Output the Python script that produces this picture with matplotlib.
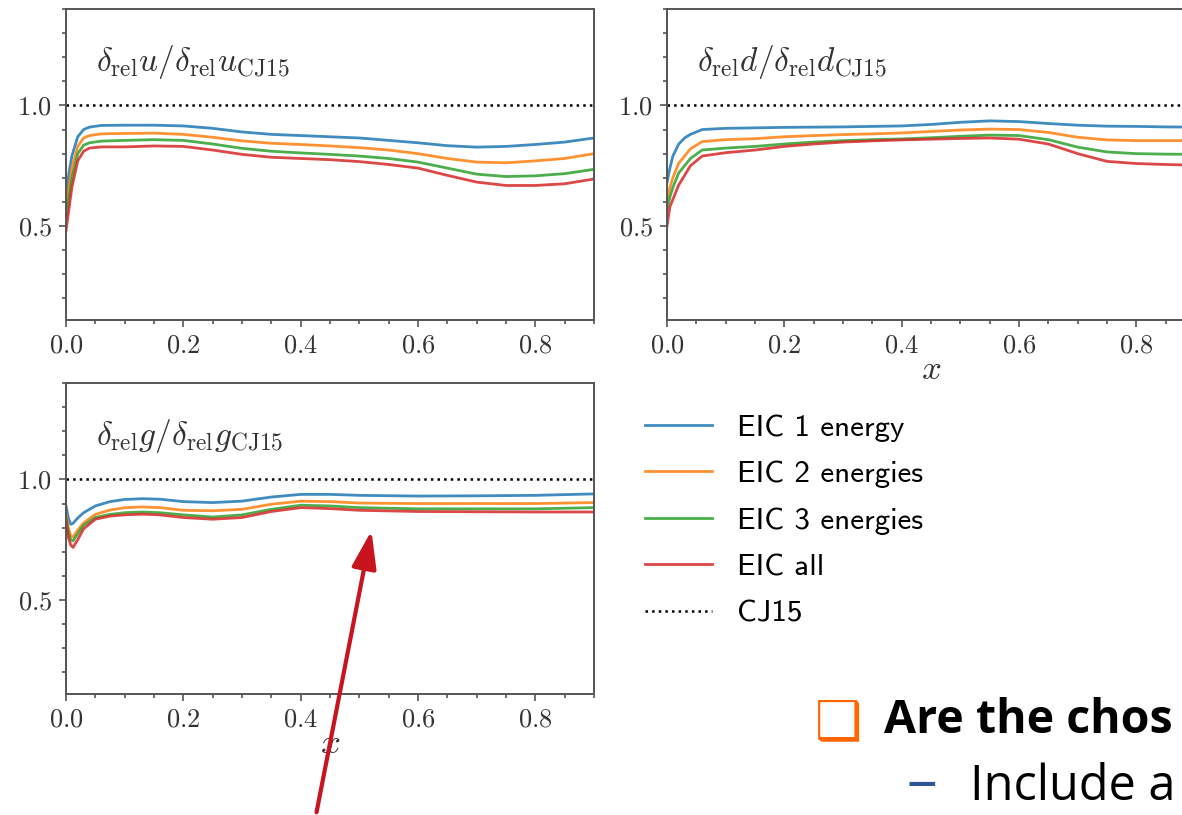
import matplotlib
matplotlib.use('Agg')
import matplotlib.pyplot as plt
from matplotlib.patches import FancyArrowPatch
from matplotlib.ticker import MultipleLocator

plt.rcParams['font.family'] = 'cmr10'
plt.rcParams['mathtext.fontset'] = 'cm'
plt.rcParams['axes.formatter.use_mathtext'] = True

# x grid of the read-off points
x_ud = [0, 0.005, 0.01, 0.02, 0.03, 0.04, 0.06, 0.1, 0.15, 0.2, 0.25, 0.3,
        0.35, 0.4, 0.45, 0.5, 0.55, 0.6, 0.65, 0.7, 0.75, 0.8, 0.85, 0.9]

u_1 = [0.62, 0.72, 0.79, 0.87, 0.90, 0.91, 0.917, 0.918, 0.918, 0.915, 0.905, 0.89,
       0.88, 0.875, 0.87, 0.865, 0.855, 0.845, 0.833, 0.827, 0.83, 0.838, 0.848, 0.865]
u_2 = [0.57, 0.66, 0.74, 0.83, 0.865, 0.875, 0.882, 0.884, 0.885, 0.88, 0.868, 0.853,
       0.843, 0.838, 0.832, 0.825, 0.815, 0.80, 0.78, 0.765, 0.762, 0.77, 0.78, 0.80]
u_3 = [0.53, 0.62, 0.70, 0.80, 0.835, 0.845, 0.852, 0.855, 0.858, 0.855, 0.84, 0.822,
       0.81, 0.803, 0.797, 0.79, 0.78, 0.765, 0.74, 0.715, 0.705, 0.708, 0.717, 0.735]
u_all = [0.48, 0.57, 0.66, 0.77, 0.81, 0.823, 0.828, 0.828, 0.832, 0.83, 0.815, 0.797,
         0.785, 0.78, 0.775, 0.767, 0.755, 0.74, 0.71, 0.682, 0.668, 0.668, 0.675, 0.695]

d_1 = [0.68, 0.74, 0.79, 0.84, 0.865, 0.88, 0.90, 0.905, 0.907, 0.909, 0.91, 0.911,
       0.913, 0.915, 0.921, 0.93, 0.936, 0.933, 0.925, 0.918, 0.914, 0.913, 0.911, 0.91]
d_2 = [0.60, 0.66, 0.70, 0.76, 0.79, 0.82, 0.85, 0.858, 0.862, 0.87, 0.875, 0.879,
       0.882, 0.886, 0.892, 0.898, 0.902, 0.90, 0.888, 0.868, 0.857, 0.854, 0.854, 0.854]
d_3 = [0.57, 0.62, 0.66, 0.72, 0.75, 0.78, 0.815, 0.823, 0.83, 0.84, 0.848, 0.854,
       0.858, 0.861, 0.866, 0.872, 0.877, 0.875, 0.858, 0.827, 0.807, 0.80, 0.798, 0.797]
d_all = [0.50, 0.58, 0.61, 0.67, 0.71, 0.75, 0.79, 0.804, 0.815, 0.83, 0.84, 0.848,
         0.853, 0.857, 0.86, 0.863, 0.865, 0.86, 0.84, 0.80, 0.768, 0.759, 0.755, 0.752]

x_g = [0, 0.004, 0.008, 0.012, 0.02, 0.03, 0.05, 0.075, 0.1, 0.13, 0.16, 0.2, 0.25,
       0.3, 0.35, 0.4, 0.45, 0.5, 0.6, 0.7, 0.8, 0.9]
g_1 = [0.89, 0.84, 0.814, 0.818, 0.84, 0.862, 0.89, 0.908, 0.917, 0.92, 0.918, 0.908, 0.904,
       0.91, 0.927, 0.938, 0.938, 0.934, 0.931, 0.932, 0.934, 0.94]
g_2 = [0.855, 0.80, 0.765, 0.762, 0.79, 0.82, 0.855, 0.873, 0.883, 0.886, 0.883, 0.872, 0.87,
       0.876, 0.897, 0.91, 0.908, 0.902, 0.90, 0.90, 0.90, 0.904]
g_3 = [0.84, 0.78, 0.75, 0.745, 0.775, 0.81, 0.842, 0.855, 0.862, 0.865, 0.862, 0.853, 0.844,
       0.853, 0.876, 0.893, 0.89, 0.883, 0.878, 0.878, 0.878, 0.883]
g_all = [0.83, 0.76, 0.728, 0.718, 0.75, 0.795, 0.835, 0.848, 0.853, 0.856, 0.853, 0.842, 0.835,
         0.842, 0.867, 0.883, 0.879, 0.872, 0.867, 0.866, 0.865, 0.865]

labels = ['EIC 1 energy', 'EIC 2 energies', 'EIC 3 energies', 'EIC all', 'CJ15']
colors = ['#1f77b4', '#ff7f0e', '#2ca02c', '#d62728']
titles = [r'$\delta_{\rm rel}u/\delta_{\rm rel}u_{\rm CJ15}$',
          r'$\delta_{\rm rel}d/\delta_{\rm rel}d_{\rm CJ15}$',
          r'$\delta_{\rm rel}g/\delta_{\rm rel}g_{\rm CJ15}$']

W, H = 1182, 815
fig = plt.figure(figsize=(W / 100, H / 100), dpi=100)

aw, ah = 528 / W, 311 / H
ax_u = fig.add_axes([66 / W, (H - 320) / H, aw, ah])
ax_d = fig.add_axes([667 / W, (H - 320) / H, aw, ah])
ax_g = fig.add_axes([66 / W, (H - 694) / H, aw, ah])

panels = [(ax_u, x_ud, [u_1, u_2, u_3, u_all]),
          (ax_d, x_ud, [d_1, d_2, d_3, d_all]),
          (ax_g, x_g, [g_1, g_2, g_3, g_all])]

for (ax, xs, series), title in zip(panels, titles):
    for ys, c, lab in zip(series, colors, labels):
        ax.plot(xs, ys, color=c, lw=2.0, alpha=0.85, label=lab)
    ax.axhline(1.0, color='k', ls=':', lw=1.8, label=labels[-1])
    ax.set_xlim(0, 0.9)
    ax.set_ylim(0.11, 1.4)
    ax.xaxis.set_major_locator(MultipleLocator(0.2))
    ax.xaxis.set_minor_locator(MultipleLocator(0.05))
    ax.yaxis.set_major_locator(MultipleLocator(0.5))
    ax.yaxis.set_minor_locator(MultipleLocator(0.1))
    ax.tick_params(which='both', direction='out', colors='#555555', labelcolor='#333333',
                   labelsize=19, width=1.2, pad=5)
    ax.tick_params(which='major', length=5)
    ax.tick_params(which='minor', length=3)
    for s in ax.spines.values():
        s.set_color('#555555')
        s.set_linewidth(1.4)
    ax.text(0.056, 0.89, title, transform=ax.transAxes, fontsize=24, va='top',
            ha='left', color='#333333')

ax_d.set_xlabel(r'$x$', fontsize=25, labelpad=-2, color='#333333')
ax_g.set_xlabel(r'$x$', fontsize=25, labelpad=-2, color='#333333')

handles, _ = ax_u.get_legend_handles_labels()
fig.legend(handles, labels, loc='upper left', bbox_to_anchor=(645 / W, (H - 414) / H),
           frameon=False, prop={'family': 'cmss10', 'size': 22.4}, handlelength=2.15,
           handletextpad=0.8, labelspacing=0.6, borderpad=0, borderaxespad=0)

# red arrow pointing at the gluon curves
fig.add_artist(FancyArrowPatch((316 / W, 0.0), (372 / W, (H - 528) / H),
                               transform=fig.transFigure,
                               arrowstyle='-|>,head_length=1.15,head_width=0.38',
                               mutation_scale=20, color='#c8141e', lw=3.0))

# slide text
fig.text(815 / W, (H - 738) / H, '\u2751', fontsize=38, color='#ff6600', family='DejaVu Sans')
fig.text(884 / W, (H - 733) / H, 'Are the chos', fontsize=33.5, fontweight='bold',
         family='Open Sans', color='black')
fig.text(907 / W, (H - 800) / H, '\u2013', fontsize=44, color='#2f5597', family='Open Sans')
fig.text(970 / W, (H - 800) / H, 'Include a', fontsize=35, family='Open Sans', color='black')

fig.savefig('out.png', dpi=100)
